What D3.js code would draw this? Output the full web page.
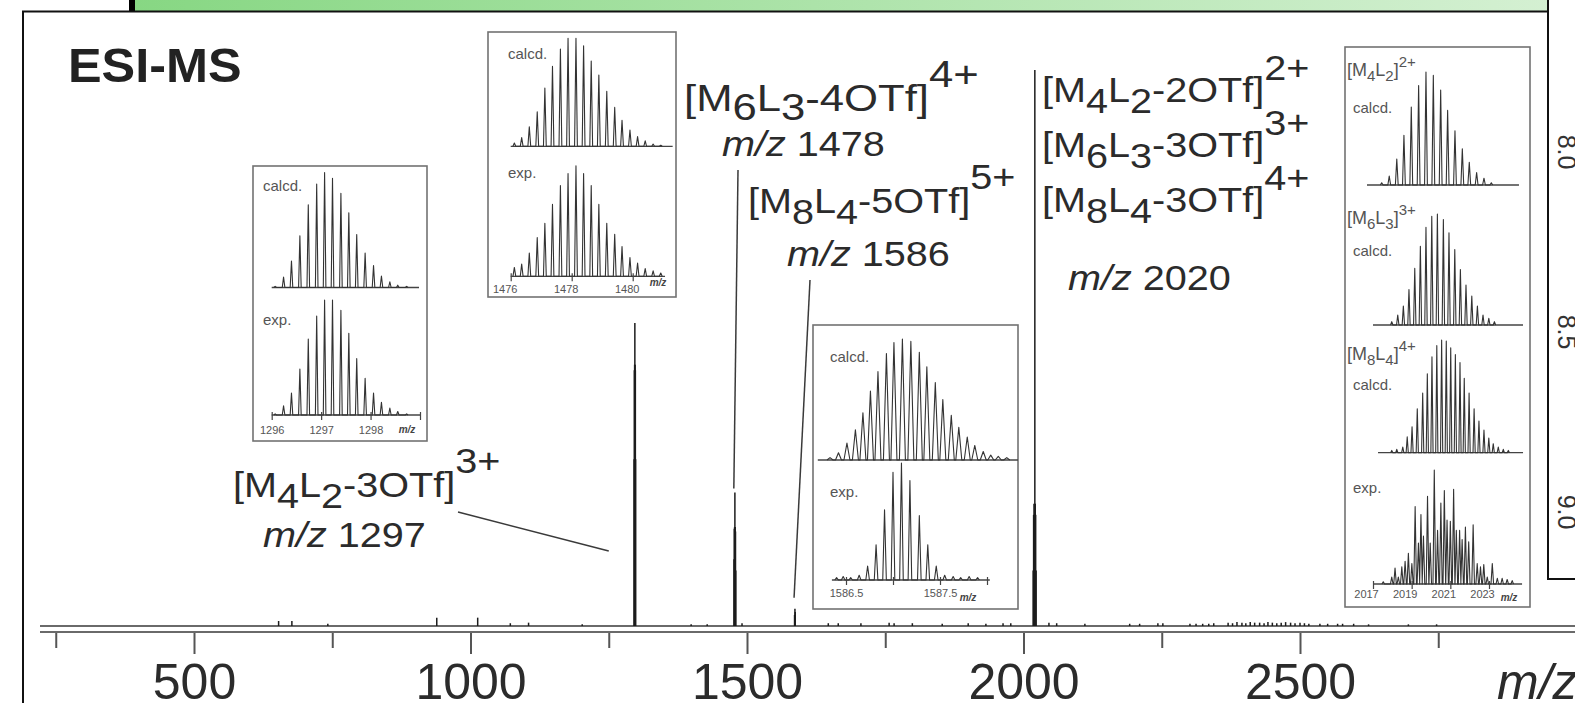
<!DOCTYPE html>
<html>
<head>
<meta charset="utf-8">
<script src="https://cdn.jsdelivr.net/npm/d3@7"></script>
<style>
  html, body { margin: 0; padding: 0; background: #fff; overflow: hidden; }
  svg { display: block; font-family: "Liberation Sans", Arial, Helvetica, sans-serif; }
</style>
</head>
<body>
<script>
const W = 1575, H = 703;

// ---- main spectrum: sticks (m/z, relative intensity in %)
const mainMz = [
  653, 677, 742, 939, 1013, 1072, 1105, 1202,
  1295.8, 1296.3, 1296.8, 1297.2, 1297.6, 1298.1, 1298.6,
  1399, 1428,
  1476.5, 1477.0, 1477.6, 1478.1, 1478.6, 1479.2, 1479.7,
  1491,
  1586.0, 1586.7, 1587.2,
  1647, 1665, 1706, 1757, 1766, 1799, 1853, 1900, 1932, 1963, 1977,
  2017.5, 2018.3, 2019.0, 2020.5, 2021.3, 2022.0, 2022.8,
  2046, 2060, 2111, 2192, 2210, 2243, 2252, 2301, 2312, 2324, 2335, 2344,
  2370, 2378, 2386, 2395, 2402, 2410, 2418, 2427, 2435, 2442, 2450, 2458, 2466, 2474, 2483, 2491, 2500, 2508, 2516,
  2536, 2550, 2568, 2577, 2597, 2624, 2696, 2747
];
const mainInt = [
  0.9, 0.9, 0.4, 1.5, 1.5, 0.5, 0.6, 0.3,
  30, 46, 47, 54.5, 47, 46, 30,
  0.3, 0.3,
  12, 17.5, 17.8, 24, 17.8, 17, 10,
  0.5,
  2, 3.1, 2.5,
  0.5, 0.5, 0.5, 0.6, 0.5, 0.5, 0.4, 0.5, 0.4, 0.5, 0.5,
  10, 20, 22, 100, 22, 20, 10,
  0.6, 0.5, 0.4, 0.4, 0.4, 0.5, 0.5, 0.4, 0.4, 0.4, 0.4, 0.5,
  0.6, 0.5, 0.7, 0.6, 0.5, 0.7, 0.6, 0.6, 0.5, 0.7, 0.6, 0.5, 0.6, 0.7, 0.6, 0.5, 0.6, 0.5, 0.4,
  0.4, 0.4, 0.4, 0.4, 0.4, 0.3, 0.3, 0.3
];
const axisTicks = [250, 500, 750, 1000, 1250, 1500, 1750, 2000, 2250, 2500, 2750, 3000];
const axisLabels = [500, 1000, 1500, 2000, 2500];

// ---- inset 1: m/z 1297
const ins1Mz = [1296.07, 1296.24, 1296.40, 1296.57, 1296.74, 1296.91, 1297.07, 1297.23, 1297.40,
  1297.56, 1297.72, 1297.89, 1298.06, 1298.22, 1298.39, 1298.55, 1298.73];
const ins1Calcd = [1, 9, 23, 45, 72, 90, 100, 95, 82, 65, 46, 30, 19, 10, 5, 2, 1];
const ins1Exp = [1, 8, 19, 40, 66, 86, 100, 100, 91, 71, 49, 32, 19, 11, 6, 3, 1];
const ins1Ticks = [1296, 1297, 1298, 1299];

// ---- inset 2: m/z 1478
const ins2Mz = [1476.12, 1476.36, 1476.61, 1476.87, 1477.12, 1477.37, 1477.63, 1477.88, 1478.14, 1478.39,
  1478.64, 1478.89, 1479.15, 1479.41, 1479.65, 1479.91, 1480.16, 1480.41, 1480.67, 1480.92];
const ins2Calcd = [3, 8, 18, 32, 54, 74, 90, 100, 100, 93, 79, 66, 51, 36, 24, 15, 9, 5, 2, 1];
const ins2Exp = [8, 11, 21, 35, 48, 65, 82, 93, 100, 93, 82, 65, 48, 38, 27, 17, 12, 7, 5, 3];
const ins2Ticks = [1476, 1478, 1480];

// ---- inset 3: m/z 1586
const ins3CalcdMz = [1586.33, 1586.42, 1586.51, 1586.60, 1586.68, 1586.76, 1586.84, 1586.93, 1587.01, 1587.10,
  1587.19, 1587.28, 1587.36, 1587.45, 1587.53, 1587.62, 1587.70, 1587.79, 1587.87, 1587.96, 1588.04, 1588.12, 1588.21];
const ins3Calcd = [2, 6, 14, 25, 39, 57, 73, 88, 97, 100, 98, 89, 77, 64, 50, 37, 27, 19, 12, 7, 4, 3, 2];
const ins3ExpMz = [1586.40, 1586.47, 1586.55, 1586.64, 1586.73, 1586.82, 1586.91, 1587.00, 1587.09, 1587.18,
  1587.28, 1587.37, 1587.46, 1587.55, 1587.64, 1587.72, 1587.81, 1587.90];
const ins3Exp = [2, 3, 2, 4, 12, 30, 60, 92, 100, 85, 55, 30, 12, 4, 3, 2, 3, 2];
const ins3Ticks = [1586.5, 1587, 1587.5, 1588];
const ins3Labels = [1586.5, 1587.5];

// ---- inset 4: m/z 2020
const ins4aMz = [2017.45, 2017.84, 2018.23, 2018.60, 2018.98, 2019.36, 2019.74, 2020.12, 2020.50, 2020.86,
  2021.24, 2021.62, 2021.98, 2022.36, 2022.74, 2023.12];
const ins4a = [2, 8, 23, 44, 69, 88, 100, 97, 84, 66, 48, 32, 20, 11, 6, 2];
const ins4bMz = [2017.97, 2018.28, 2018.57, 2018.86, 2019.16, 2019.45, 2019.74, 2020.04, 2020.33, 2020.64,
  2020.93, 2021.23, 2021.52, 2021.81, 2022.11, 2022.40, 2022.69, 2022.99, 2023.28];
const ins4b = [3, 9, 17, 32, 51, 71, 88, 98, 100, 95, 83, 68, 50, 36, 26, 17, 9, 6, 3];
const ins4cMz = [2017.97, 2018.23, 2018.54, 2018.77, 2019.02, 2019.29, 2019.57, 2019.81, 2020.05, 2020.30,
  2020.55, 2020.79, 2021.02, 2021.26, 2021.50, 2021.72, 2021.97, 2022.23, 2022.48, 2022.74, 2022.99, 2023.22,
  2023.48, 2023.74, 2024.00];
const ins4c = [2, 3, 5, 14, 23, 39, 53, 70, 85, 95, 100, 99, 93, 87, 80, 66, 53, 39, 28, 20, 13, 8, 5, 3, 2];
const ins4ExpMz = [2017.53, 2017.97, 2018.14, 2018.31, 2018.49, 2018.66, 2018.83, 2019.01, 2019.18, 2019.35,
  2019.48, 2019.61, 2019.82, 2019.96, 2020.17, 2020.34, 2020.51, 2020.69, 2020.83, 2021.00, 2021.17, 2021.31,
  2021.48, 2021.61, 2021.78, 2021.95, 2022.18, 2022.39, 2022.56, 2022.73, 2022.91, 2023.17, 2023.43, 2023.68,
  2023.94, 2024.20];
const ins4Exp = [2, 6, 14, 6, 15, 20, 27, 18, 68, 36, 61, 42, 77, 36, 100, 47, 71, 82, 56, 55, 83, 47, 47,
  39, 50, 37, 52, 18, 15, 17, 6, 18, 5, 5, 4, 3];
const ins4Ticks = [2017, 2019, 2021, 2023];

// ---- tick labels of the neighbouring (rotated) panel on the right
const sideLabels = ["7.5", "8.0", "8.5", "9.0"];

const svg = d3.select("body").append("svg")
  .attr("width", W).attr("height", H);

svg.append("rect").attr("width", W).attr("height", H).attr("fill", "#fff");

// header strip
const grad = svg.append("defs").append("linearGradient").attr("id", "green");
grad.append("stop").attr("offset", "0%").attr("stop-color", "#87d783");
grad.append("stop").attr("offset", "100%").attr("stop-color", "#d4f0d2");
svg.append("rect").attr("x", 133).attr("y", -2).attr("width", 1415).attr("height", 13).attr("fill", "url(#green)");
svg.append("rect").attr("x", 129).attr("y", -2).attr("width", 6).attr("height", 13).attr("fill", "#000");

// main panel frame
svg.append("path").attr("d", "M23,705 V11.5 H1548")
  .attr("fill", "none").attr("stroke", "#111").attr("stroke-width", 2);

// ---- scales
const x = d3.scaleLinear().domain([500, 2500]).range([194, 1300]);
const y = d3.scaleLinear().domain([0, 100]).range([626, 70]);

// baseline + axis line (double line)
const axisG = svg.append("g");
[y(0), 632].forEach(yy => {
  axisG.append("line").attr("x1", 40).attr("x2", W).attr("y1", yy).attr("y2", yy)
    .attr("stroke", "#6a6a6a").attr("stroke-width", 2);
});

const minorAxis = d3.axisBottom(x).tickValues(axisTicks.filter(t => t % 500)).tickSize(15).tickFormat("");
const majorAxis = d3.axisBottom(x).tickValues(axisTicks.filter(t => t % 500 === 0)).tickSize(21)
  .tickFormat(d => axisLabels.includes(d) ? d : "");
[minorAxis, majorAxis].forEach(ax => {
  const g = svg.append("g").attr("transform", "translate(0,633)").call(ax);
  g.select(".domain").remove();
  g.selectAll(".tick line").attr("stroke", "#555").attr("stroke-width", 2);
  g.selectAll(".tick text")
    .attr("font-size", 50).attr("fill", "#2b2b2b").attr("y", 66).attr("dy", 0)
    .attr("font-family", '"Liberation Sans", Arial, sans-serif');
});
svg.append("text").attr("x", 1497).attr("y", 699)
  .attr("font-size", 50).attr("font-style", "italic").attr("fill", "#2b2b2b").text("m/z");

// ---- spectrum sticks
svg.append("g").selectAll("line").data(mainMz).join("line")
  .attr("x1", d => x(d)).attr("x2", d => x(d))
  .attr("y1", y(0)).attr("y2", (d, i) => y(mainInt[i]))
  .attr("stroke", "#1c1c1c").attr("stroke-width", 1.5);

// ---- title
svg.append("text").attr("transform", "translate(68,82) scale(1.05,1)")
  .attr("font-size", 48).attr("font-weight", "bold").attr("fill", "#222").text("ESI-MS");

// ---- formula labels
function chemLabel(px, py, parts, size, stretch, sub, sup) {
  const t = svg.append("text")
    .attr("transform", `translate(${px},${py}) scale(${stretch},1)`)
    .attr("font-size", size).attr("fill", "#2b2b2b");
  let shift = 0;
  parts.forEach(p => {
    const target = p[1] === "sub" ? sub : p[1] === "sup" ? sup : 0;
    t.append("tspan").attr("dy", target - shift).text(p[0]);
    shift = target;
  });
  return t;
}
function mzLabel(px, py, value) {
  const t = svg.append("text").attr("transform", `translate(${px},${py}) scale(1.1,1)`)
    .attr("font-size", 36).attr("fill", "#2b2b2b");
  t.append("tspan").attr("font-style", "italic").text("m/z");
  t.append("tspan").text(" " + value);
}
chemLabel(233, 497, [["[M"], ["4", "sub"], ["L"], ["2", "sub"], ["-3OTf]"], ["3+", "sup"]], 36, 1.1, 11, -24);
mzLabel(263, 547, 1297);
chemLabel(684, 111, [["[M"], ["6", "sub"], ["L"], ["3", "sub"], ["-4OTf]"], ["4+", "sup"]], 37, 1.18, 9, -24);
mzLabel(722, 156, 1478);
chemLabel(748, 213, [["[M"], ["8", "sub"], ["L"], ["4", "sub"], ["-5OTf]"], ["5+", "sup"]], 36, 1.1, 11, -24);
mzLabel(787, 266, 1586);
chemLabel(1042, 102, [["[M"], ["4", "sub"], ["L"], ["2", "sub"], ["-2OTf]"], ["2+", "sup"]], 36, 1.1, 11, -22);
chemLabel(1042, 157, [["[M"], ["6", "sub"], ["L"], ["3", "sub"], ["-3OTf]"], ["3+", "sup"]], 36, 1.1, 11, -22);
chemLabel(1042, 212, [["[M"], ["8", "sub"], ["L"], ["4", "sub"], ["-3OTf]"], ["4+", "sup"]], 36, 1.1, 11, -22);
mzLabel(1068, 290, 2020);

// leader lines
const leaders = [
  [[458, 512], [x(1297) - 26, 551]],
  [[738, 170], [x(1478) - 1, y(24) - 4]],
  [[810, 280], [x(1586) - 0.5, y(3.1) - 11]]
];
leaders.forEach(l => {
  svg.append("line").attr("x1", l[0][0]).attr("y1", l[0][1]).attr("x2", l[1][0]).attr("y2", l[1][1])
    .attr("stroke", "#3a3a3a").attr("stroke-width", 1.5);
});

// ---- insets
function drawInset(cfg) {
  const g = svg.append("g");
  g.append("rect").attr("x", cfg.box[0]).attr("y", cfg.box[1])
    .attr("width", cfg.box[2] - cfg.box[0]).attr("height", cfg.box[3] - cfg.box[1])
    .attr("fill", "#fff").attr("stroke", "#727272").attr("stroke-width", 1.6);
  const sx = d3.scaleLinear().domain(cfg.domain).range(cfg.range);
  cfg.panels.forEach(p => {
    const sy = d3.scaleLinear().domain([0, 100]).range([p.base, p.base - p.height]);
    g.append("line").attr("x1", sx(p.extent[0])).attr("x2", sx(p.extent[1]))
      .attr("y1", p.base).attr("y2", p.base).attr("stroke", "#444").attr("stroke-width", 1.3);
    const pts = [];
    p.mz.forEach((m, i) => {
      const cx = sx(m);
      pts.push([cx - p.hw, sy(0)], [cx, sy(p.vals[i])], [cx + p.hw, sy(0)]);
    });
    g.append("path").attr("d", d3.line()(pts)).attr("fill", "none")
      .attr("stroke", "#333").attr("stroke-width", 1.1).attr("stroke-linejoin", "round");
    if (p.tag) {
      const t = g.append("text").attr("x", p.tag[0]).attr("y", p.tag[1])
        .attr("font-size", 18).attr("fill", "#555");
      let shift = 0;
      p.tag[2].forEach(q => {
        const target = q[1] === "sub" ? 5 : q[1] === "sup" ? -9 : 0;
        t.append("tspan").attr("dy", target - shift).attr("font-size", q[1] ? 15 : 18).text(q[0]);
        shift = target;
      });
    }
    g.append("text").attr("x", p.label[0]).attr("y", p.label[1])
      .attr("font-size", 15).attr("fill", "#555").text(p.label[2]);
    if (p.axis) {
      const ax = d3.axisBottom(sx).tickValues(p.axis.ticks).tickSize(8)
        .tickFormat(d => p.axis.labels.includes(d) ? d : "");
      const ag = g.append("g").attr("transform", `translate(0,${p.base - 3})`).call(ax);
      ag.select(".domain").remove();
      ag.selectAll(".tick line").attr("stroke", "#444").attr("stroke-width", 1.2);
      ag.selectAll(".tick text").attr("font-size", 11).attr("fill", "#555")
        .attr("font-family", '"Liberation Sans", Arial, sans-serif')
        .attr("y", p.axis.dy).attr("dy", 0).attr("dx", p.axis.dx);
      g.append("text").attr("x", p.axis.mz[0]).attr("y", p.axis.mz[1])
        .attr("font-size", 10).attr("font-style", "italic").attr("font-weight", "bold")
        .attr("fill", "#444").attr("text-anchor", "middle").text("m/z");
    }
  });
}

drawInset({
  box: [253, 166, 427, 441], domain: [1296, 1299], range: [271.7, 420],
  panels: [
    { base: 287.5, height: 115, mz: ins1Mz, vals: ins1Calcd, hw: 1.3, extent: [1296, 1298.98],
      label: [263, 191, "calcd."] },
    { base: 415, height: 115, mz: ins1Mz, vals: ins1Exp, hw: 1.3, extent: [1296, 1299],
      label: [263, 325, "exp."],
      axis: { ticks: ins1Ticks, labels: [1296, 1297, 1298], dy: 22, dx: 0, mz: [407, 433] } }
  ]
});
drawInset({
  box: [488, 32, 676, 297], domain: [1476, 1480], range: [510.7, 632.7],
  panels: [
    { base: 146.3, height: 108, mz: ins2Mz, vals: ins2Calcd, hw: 1.4, extent: [1476, 1481.31],
      label: [508, 59, "calcd."] },
    { base: 276.3, height: 110.6, mz: ins2Mz, vals: ins2Exp, hw: 1.4, extent: [1476, 1481.06],
      label: [508, 178, "exp."],
      axis: { ticks: ins2Ticks, labels: ins2Ticks, dy: 20, dx: -6, mz: [658, 286] } }
  ]
});
drawInset({
  box: [813, 325, 1018, 609], domain: [1586.5, 1587.5], range: [846, 940],
  panels: [
    { base: 460, height: 121, mz: ins3CalcdMz, vals: ins3Calcd, hw: 3, extent: [1586.2, 1588.33],
      label: [830, 362, "calcd."] },
    { base: 580, height: 117, mz: ins3ExpMz, vals: ins3Exp, hw: 1.8, extent: [1586.35, 1588.03],
      label: [830, 497, "exp."],
      axis: { ticks: ins3Ticks, labels: ins3Labels, dy: 20, dx: 0, mz: [968, 601] } }
  ]
});
drawInset({
  box: [1345, 47, 1530, 607], domain: [2017, 2023], range: [1373, 1489],
  panels: [
    { base: 185, height: 113, mz: ins4aMz, vals: ins4a, hw: 1.4, extent: [2016.69, 2024.55],
      label: [1353, 113, "calcd."], tag: [1347, 76, [["[M"], ["4", "sub"], ["L"], ["2", "sub"], ["]"], ["2+", "sup"]]] },
    { base: 325, height: 111, mz: ins4bMz, vals: ins4b, hw: 1.2, extent: [2017, 2024.76],
      label: [1353, 256, "calcd."], tag: [1347, 224, [["[M"], ["6", "sub"], ["L"], ["3", "sub"], ["]"], ["3+", "sup"]]] },
    { base: 452.7, height: 112.7, mz: ins4cMz, vals: ins4c, hw: 1.1, extent: [2017.26, 2024.76],
      label: [1353, 390, "calcd."], tag: [1347, 360, [["[M"], ["8", "sub"], ["L"], ["4", "sub"], ["]"], ["4+", "sup"]]] },
    { base: 584, height: 114, mz: ins4ExpMz, vals: ins4Exp, hw: 1.3, extent: [2017, 2024.71],
      label: [1353, 493, "exp."],
      axis: { ticks: ins4Ticks, labels: ins4Ticks, dy: 17, dx: -7, mz: [1509, 601] } }
  ]
});

// ---- neighbouring panel on the right (cut off by the crop)
svg.append("path").attr("d", "M1548,-2 V579 H1580")
  .attr("fill", "#fff").attr("stroke", "#111").attr("stroke-width", 2);
const side = d3.scalePoint().domain(sideLabels).range([-28, 512]);
svg.append("g").selectAll("text").data(sideLabels).join("text")
  .attr("transform", d => `translate(1558,${side(d)}) rotate(90)`)
  .attr("text-anchor", "middle").attr("font-size", 25).attr("fill", "#333").text(d => d);
</script>
</body>
</html>
